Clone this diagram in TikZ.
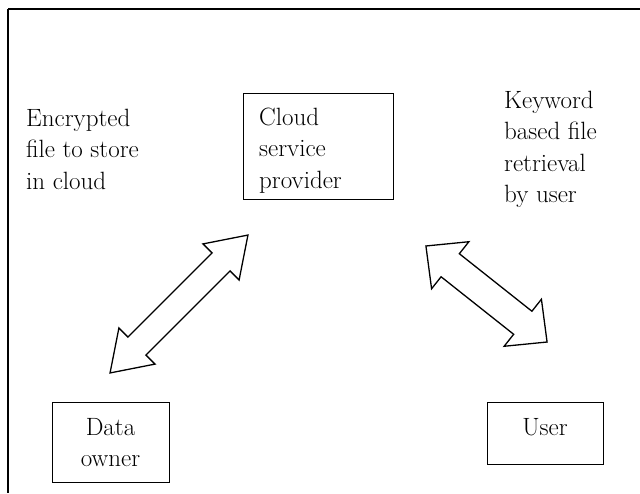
\documentclass[tikz,border=0pt]{standalone}
\begin{document}
\begin{tikzpicture}[x=1pt,y=-1pt,
  frame/.style={line width=1.3pt},
  box/.style={draw, line width=1.3pt, inner sep=0pt},
  lbl/.style={font=\fontsize{25}{31.5}\selectfont, align=left, inner sep=0pt},
  blockarrow/.style={draw, line width=1.3pt, fill=white, line join=miter}]
\useasboundingbox (0,0) rectangle (640,493);
% outer frame (top and left edges only)
\coordinate (ftl) at (8,9);
\coordinate (ftr) at (640,9);
\coordinate (fbl) at (8,493);
\draw[frame] (ftl) -- (ftr);
\draw[frame] (ftl) -- (fbl);
% boxes
\node[box, minimum width=150pt, minimum height=106pt, anchor=north west] (cloud) at (243,93) {};
\node[box, minimum width=117pt, minimum height=80pt, anchor=north west] (owner) at (52,402) {};
\node[box, minimum width=116pt, minimum height=62pt, anchor=north west] (user) at (487,402) {};
% texts
\node[lbl, anchor=north west] (tcloud) at (259,107.6) {Cloud\\service\\provider};
\node[lbl, align=center, anchor=north] (towner) at (110.5,418) {Data\\owner};
\node[lbl, anchor=north] (tuser) at (545,418) {User};
\node[lbl, anchor=north west] (tenc) at (26,108.6) {Encrypted\\file to store\\in cloud};
\node[lbl, anchor=north west] (tkey) at (504,90.6) {Keyword\\based file\\retrieval\\by user};
% double block arrows
\begin{scope}[shift={(179,304)}, rotate=45]
  \draw[blockarrow] (97.5,0) -- (59.5,25.5) -- (59.5,12.7) -- (-59.5,12.7) -- (-59.5,25.5)
     -- (-97.5,0) -- (-59.5,-25.5) -- (-59.5,-12.7) -- (59.5,-12.7) -- (59.5,-25.5) -- cycle;
\end{scope}
\begin{scope}[shift={(486.5,294)}, rotate=-38.4]
  \draw[blockarrow] (77.3,0) -- (46.3,30) -- (46.3,14.7) -- (-46.3,14.7) -- (-46.3,30)
     -- (-77.3,0) -- (-46.3,-30) -- (-46.3,-14.7) -- (46.3,-14.7) -- (46.3,-30) -- cycle;
\end{scope}
\end{tikzpicture}
\end{document}
